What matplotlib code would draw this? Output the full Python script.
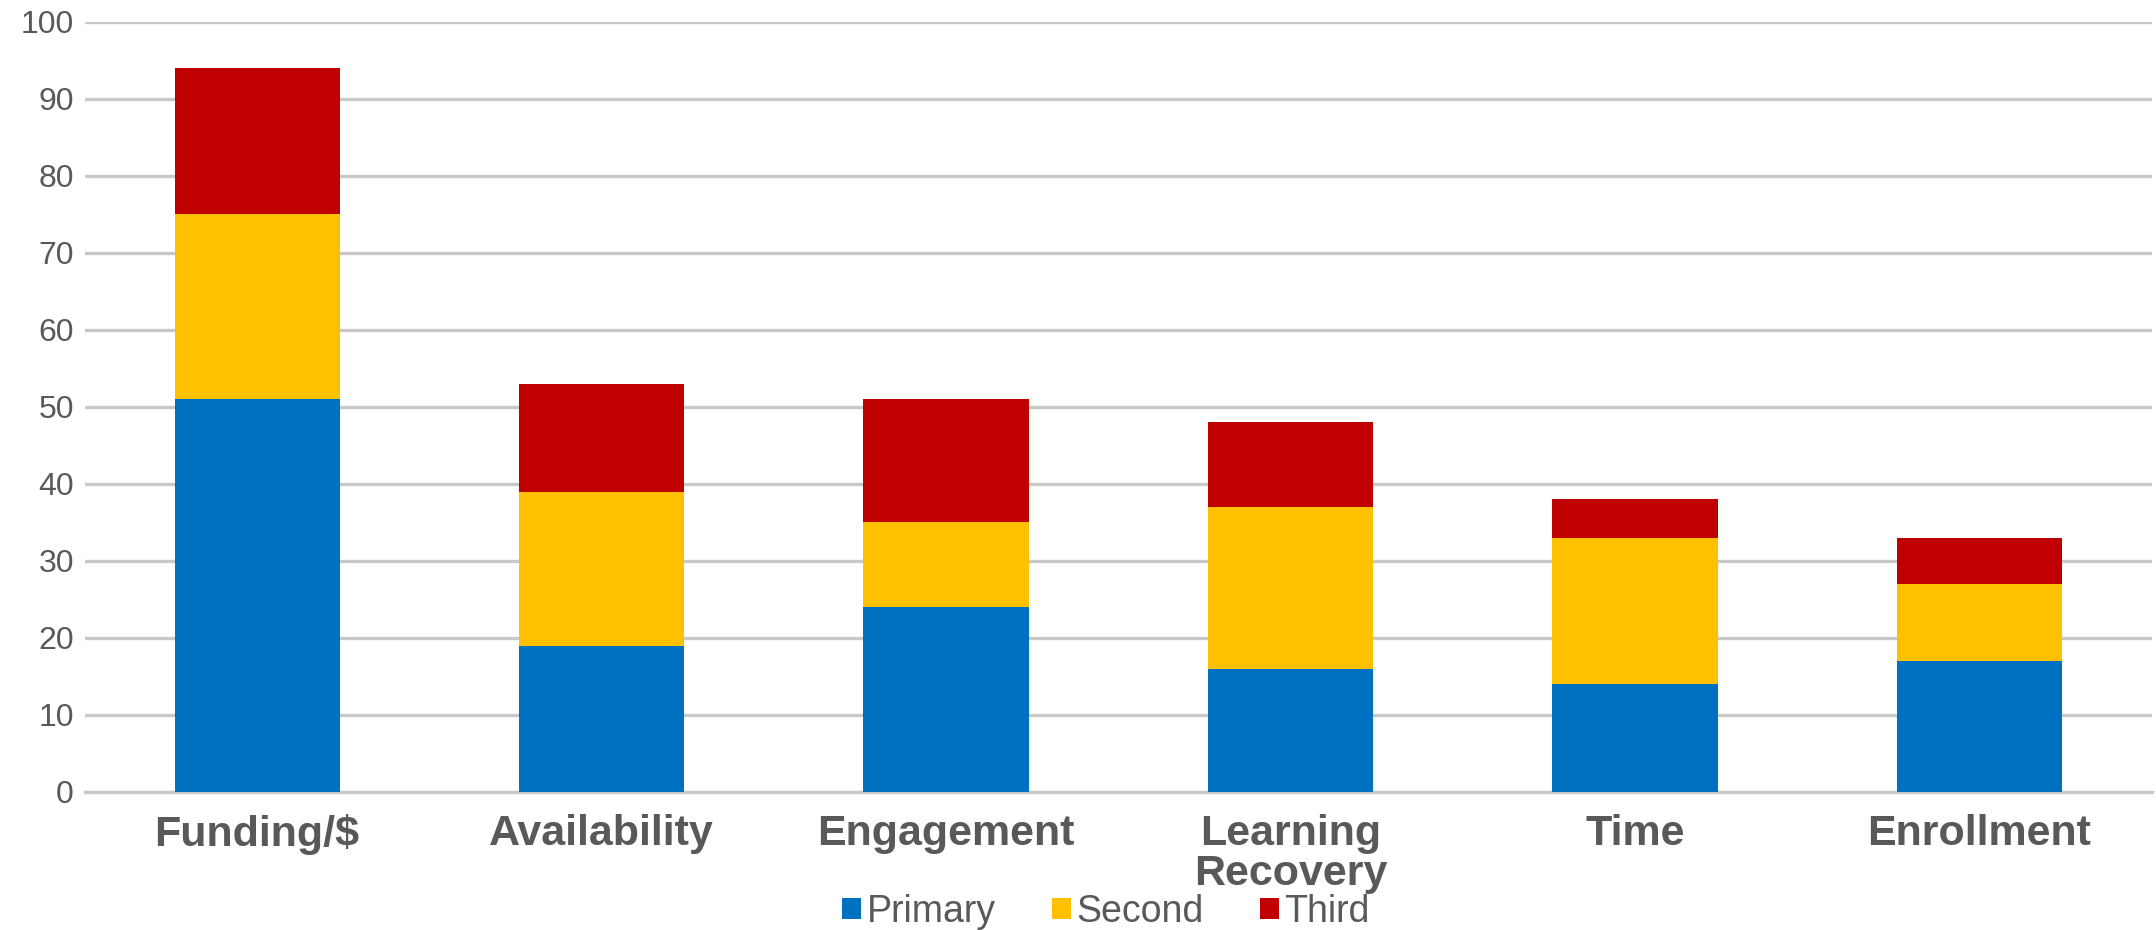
import matplotlib.pyplot as plt
import numpy as np

plt.rcParams['font.family'] = ['Liberation Sans', 'DejaVu Sans']

categories = ['Funding/$', 'Availability', 'Engagement', 'Learning\nRecovery', 'Time', 'Enrollment']
primary = [51, 19, 24, 16, 14, 17]
second = [24, 20, 11, 21, 19, 10]
third = [19, 14, 16, 11, 5, 6]

colors = {'Primary': '#0070C0', 'Second': '#FFC000', 'Third': '#C00000'}

fig = plt.figure(figsize=(21.56, 9.3), dpi=100)
ax = fig.add_axes([0.0394, 0.1484, 0.9586, 0.828])

x = np.arange(len(categories))
w = 0.48
p = np.array(primary)
s = np.array(second)
t = np.array(third)
ax.bar(x, p, w, color=colors['Primary'], label='Primary', zorder=3)
ax.bar(x, s, w, bottom=p, color=colors['Second'], label='Second', zorder=3)
ax.bar(x, t, w, bottom=p + s, color=colors['Third'], label='Third', zorder=3)

ax.set_xlim(-0.5, len(categories) - 0.5)
ax.set_ylim(0, 100)
ax.set_yticks(range(0, 101, 10))
ax.yaxis.grid(True, color='#C8C8C8', linewidth=2.4, zorder=0)
ax.set_axisbelow(True)
for sp in ['top', 'right', 'left']:
    ax.spines[sp].set_visible(False)
ax.spines['bottom'].set_color('#C8C8C8')
ax.spines['bottom'].set_linewidth(2.4)
ax.tick_params(axis='both', length=0)
ax.tick_params(axis='y', labelsize=23, labelcolor='#595959', pad=8)
ax.set_xticks(x)
ax.set_xticklabels(categories, fontsize=31, fontweight='bold', color='#595959',
                   linespacing=1.0, va='top')
ax.tick_params(axis='x', pad=16)

# legend sits under the labels, overlapping "Recovery" like the original
leg = ax.legend(loc='center', bbox_to_anchor=(0.494, -0.156), ncol=3, frameon=False,
                fontsize=27, handlelength=0.5, handleheight=0.5, handletextpad=0.15,
                columnspacing=1.5, labelcolor='#595959', borderpad=0)

fig.savefig('out.png', dpi=100)
